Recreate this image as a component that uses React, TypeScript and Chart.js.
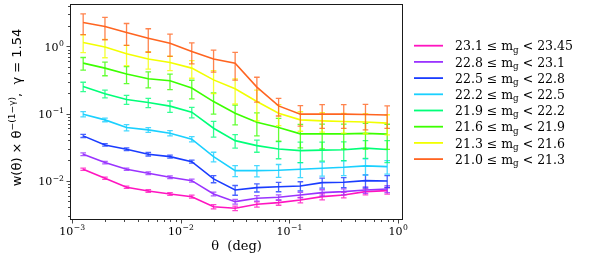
import React, { useEffect, useRef } from 'react';
import { Chart, registerables } from 'chart.js';

Chart.register(...registerables);

// angular separations (deg)
const THETA = [0.00126, 0.002, 0.00316, 0.00501, 0.00794, 0.0126, 0.02, 0.0316, 0.0501, 0.0794, 0.126, 0.2, 0.316, 0.501, 0.794];

// magnitude bins (legend order, faintest first)
const BIN_LO = ['23.1', '22.8', '22.5', '22.2', '21.9', '21.6', '21.3', '21.0'];
const BIN_HI = ['23.45', '23.1', '22.8', '22.5', '22.2', '21.9', '21.6', '21.3'];
const COLORS = ['#ff14c0', '#9a33ff', '#1a3cff', '#1ad0ff', '#00ff78', '#3cff00', '#f2ff00', '#ff6420'];

const W_2310 = [0.0148, 0.01086, 0.00797, 0.00702, 0.00633, 0.00577, 0.00409, 0.00387, 0.00444, 0.0047, 0.00515, 0.00577, 0.00612, 0.00685, 0.0071];
const E_2310 = [0.0006, 0.0004, 0.0003, 0.0003, 0.0003, 0.0003, 0.0003, 0.0003, 0.0004, 0.0004, 0.0005, 0.0006, 0.0006, 0.0007, 0.0008];
const W_2280 = [0.0248, 0.0186, 0.0148, 0.0129, 0.01125, 0.01, 0.00633, 0.00486, 0.00546, 0.00565, 0.00612, 0.00662, 0.00685, 0.00726, 0.00752];
const E_2280 = [0.0012, 0.0008, 0.0006, 0.0006, 0.0005, 0.0005, 0.0004, 0.0004, 0.0005, 0.0005, 0.0006, 0.0007, 0.0007, 0.0008, 0.0009];
const W_2250 = [0.0465, 0.0341, 0.0294, 0.0248, 0.0228, 0.0192, 0.0106, 0.00726, 0.00787, 0.00813, 0.00833, 0.00934, 0.00946, 0.01, 0.0099];
const E_2250 = [0.0025, 0.0015, 0.0013, 0.0015, 0.0012, 0.001, 0.0013, 0.0012, 0.0011, 0.0013, 0.0013, 0.0016, 0.0016, 0.0022, 0.002];
const W_2220 = [0.098, 0.0805, 0.0618, 0.0571, 0.051, 0.0415, 0.0228, 0.0141, 0.0141, 0.0143, 0.0148, 0.0153, 0.0158, 0.0166, 0.0162];
const E_2220 = [0.009, 0.005, 0.0065, 0.0045, 0.0045, 0.0037, 0.0037, 0.0026, 0.0027, 0.0031, 0.0037, 0.0036, 0.0039, 0.0045, 0.0037];
const W_2190 = [0.253, 0.197, 0.162, 0.146, 0.129, 0.105, 0.0605, 0.0395, 0.0333, 0.0297, 0.028, 0.0285, 0.0289, 0.0305, 0.0291];
const E_2190 = [0.04, 0.026, 0.025, 0.023, 0.025, 0.019, 0.016, 0.009, 0.0068, 0.0085, 0.0094, 0.009, 0.009, 0.009, 0.0105];
const W_2160 = [0.565, 0.476, 0.39, 0.33, 0.308, 0.24, 0.151, 0.101, 0.0744, 0.0618, 0.0498, 0.0498, 0.0498, 0.0506, 0.0493];
const E_2160 = [0.12, 0.11, 0.11, 0.088, 0.08, 0.074, 0.053, 0.033, 0.028, 0.023, 0.019, 0.02, 0.02, 0.021, 0.02];
const W_2130 = [1.15, 0.98, 0.78, 0.65, 0.577, 0.476, 0.318, 0.234, 0.151, 0.101, 0.0805, 0.0778, 0.076, 0.075, 0.072];
const E_2130 = [0.34, 0.3, 0.26, 0.19, 0.14, 0.14, 0.12, 0.095, 0.073, 0.035, 0.026, 0.025, 0.025, 0.025, 0.024];
const W_2100 = [2.28, 1.99, 1.62, 1.33, 1.12, 0.84, 0.65, 0.565, 0.248, 0.13, 0.098, 0.098, 0.098, 0.097, 0.095];
const E_2100 = [0.78, 0.73, 0.58, 0.51, 0.41, 0.29, 0.235, 0.25, 0.1, 0.038, 0.033, 0.038, 0.038, 0.04, 0.035];

const SERIES = [W_2310, W_2280, W_2250, W_2220, W_2190, W_2160, W_2130, W_2100];
const ERRORS = [E_2310, E_2280, E_2250, E_2220, E_2190, E_2160, E_2130, E_2100];

const X_MAJOR = [0.001, 0.01, 0.1, 1];
const X_MAJOR_EXP = ['\u22123', '\u22122', '\u22121', '0'];
const Y_MAJOR = [0.01, 0.1, 1];
const Y_MAJOR_EXP = ['\u22122', '\u22121', '0'];
const MINOR_MULT = [2, 3, 4, 5, 6, 7, 8, 9];

const X_MIN = 9.53e-4;
const X_MAX = 1.11;
const Y_MIN = 2.59e-3;
const Y_MAX = 4.3;

const SERIF = '"DejaVu Serif", serif';
const SANS = '"DejaVu Sans", sans-serif';

function withAlpha(hex: string, a: number) {
  const r = parseInt(hex.slice(1, 3), 16);
  const g = parseInt(hex.slice(3, 5), 16);
  const b = parseInt(hex.slice(5, 7), 16);
  return `rgba(${r},${g},${b},${a})`;
}

function minorTicks(min: number, max: number) {
  const out: number[] = [];
  for (let e = Math.floor(Math.log10(min)); e <= Math.ceil(Math.log10(max)); e++) {
    for (const m of MINOR_MULT) {
      const v = m * Math.pow(10, e);
      if (v >= min && v <= max) out.push(v);
    }
  }
  return out;
}

function drawPow(ctx: CanvasRenderingContext2D, exp: string, x: number, y: number, size: number, align: 'center' | 'right') {
  const supSize = size * 0.7;
  ctx.font = `${size}px ${SERIF}`;
  const wb = ctx.measureText('10').width;
  ctx.font = `${supSize}px ${SERIF}`;
  const ws = ctx.measureText(exp).width;
  const total = wb + ws + 0.5;
  const x0 = align === 'center' ? x - total / 2 : x - total;
  ctx.textAlign = 'left';
  ctx.textBaseline = 'alphabetic';
  ctx.font = `${size}px ${SERIF}`;
  ctx.fillText('10', x0, y);
  ctx.font = `${supSize}px ${SERIF}`;
  ctx.fillText(exp, x0 + wb + 0.5, y - size * 0.42);
}

const decor = {
  id: 'decor',
  afterDatasetDraw(chart: any, args: any) {
    const i = args.index;
    const ctx: CanvasRenderingContext2D = chart.ctx;
    const xs = chart.scales.x;
    const ys = chart.scales.y;
    const vals = SERIES[i];
    const errs = ERRORS[i];
    ctx.save();
    ctx.strokeStyle = withAlpha(COLORS[i], 0.8);
    ctx.lineWidth = 1.3;
    for (let k = 0; k < THETA.length; k++) {
      const px = xs.getPixelForValue(THETA[k]);
      const lo = Math.max(vals[k] - errs[k], Y_MIN * 0.5);
      const hi = vals[k] + errs[k];
      const py1 = ys.getPixelForValue(hi);
      const py2 = ys.getPixelForValue(lo);
      ctx.beginPath();
      ctx.moveTo(px, py1);
      ctx.lineTo(px, py2);
      ctx.moveTo(px - 2.8, py1);
      ctx.lineTo(px + 2.8, py1);
      ctx.moveTo(px - 2.8, py2);
      ctx.lineTo(px + 2.8, py2);
      ctx.stroke();
    }
    ctx.restore();
  },
  afterDraw(chart: any) {
    const ctx: CanvasRenderingContext2D = chart.ctx;
    const { left, right, top, bottom } = chart.chartArea;
    const xs = chart.scales.x;
    const ys = chart.scales.y;
    ctx.save();
    // frame
    ctx.strokeStyle = '#1a1a1a';
    ctx.lineWidth = 1;
    ctx.strokeRect(Math.round(left) + 0.5, Math.round(top) + 0.5, Math.round(right - left) - 1, Math.round(bottom - top) - 1);
    // ticks
    ctx.beginPath();
    for (const v of X_MAJOR) {
      const px = Math.round(xs.getPixelForValue(v)) + 0.5;
      ctx.moveTo(px, bottom); ctx.lineTo(px, bottom + 3.5);
    }
    for (const v of minorTicks(X_MIN, X_MAX)) {
      const px = Math.round(xs.getPixelForValue(v)) + 0.5;
      ctx.moveTo(px, bottom); ctx.lineTo(px, bottom + 2);
    }
    for (const v of Y_MAJOR) {
      const py = Math.round(ys.getPixelForValue(v)) + 0.5;
      ctx.moveTo(left, py); ctx.lineTo(left - 3.5, py);
    }
    for (const v of minorTicks(Y_MIN, Y_MAX)) {
      const py = Math.round(ys.getPixelForValue(v)) + 0.5;
      ctx.moveTo(left, py); ctx.lineTo(left - 2, py);
    }
    ctx.lineWidth = 0.8;
    ctx.stroke();
    // tick labels
    ctx.fillStyle = '#000';
    X_MAJOR.forEach((v, k) => {
      drawPow(ctx, X_MAJOR_EXP[k], xs.getPixelForValue(v), bottom + 15, 11, 'center');
    });
    Y_MAJOR.forEach((v, k) => {
      drawPow(ctx, Y_MAJOR_EXP[k], left - 6, ys.getPixelForValue(v) + 4.5, 11, 'right');
    });
    // x title
    ctx.font = `13px ${SERIF}`;
    ctx.textAlign = 'center';
    ctx.textBaseline = 'alphabetic';
    ctx.fillText('\u03b8  (deg)', (left + right) / 2, bottom + 30);
    // y title
    ctx.save();
    ctx.translate(21, 107.5);
    ctx.rotate(-Math.PI / 2);
    const s = 13;
    const p1 = 'w(\u03b8) \u00d7 \u03b8';
    const p2 = '\u2212(1\u2212\u03b3)';
    const p3 = ',  \u03b3 = 1.54';
    ctx.font = `${s}px ${SANS}`;
    const w1 = ctx.measureText(p1).width;
    const w3 = ctx.measureText(p3).width;
    ctx.font = `${s * 0.7}px ${SANS}`;
    const w2 = ctx.measureText(p2).width;
    let x0 = -(w1 + w2 + w3) / 2;
    ctx.textAlign = 'left';
    ctx.font = `${s}px ${SANS}`;
    ctx.fillText(p1, x0, 0);
    ctx.font = `${s * 0.7}px ${SANS}`;
    ctx.fillText(p2, x0 + w1, -s * 0.45);
    ctx.font = `${s}px ${SANS}`;
    ctx.fillText(p3, x0 + w1 + w2, 0);
    ctx.restore();
    // legend
    const fs = 12.5;
    for (let i = 0; i < BIN_LO.length; i++) {
      const cy = 45.7 + i * 16.2;
      ctx.strokeStyle = COLORS[i];
      ctx.lineWidth = 1.8;
      ctx.beginPath();
      ctx.moveTo(414, cy);
      ctx.lineTo(443, cy);
      ctx.stroke();
      const by = cy + 4.6;
      let x = 455;
      ctx.fillStyle = '#000';
      ctx.textAlign = 'left';
      ctx.font = `${fs}px ${SERIF}`;
      const a = `${BIN_LO[i]} \u2264 m`;
      ctx.fillText(a, x, by);
      x += ctx.measureText(a).width;
      ctx.font = `${fs * 0.7}px ${SERIF}`;
      ctx.fillText('g', x, by + 2.3);
      x += ctx.measureText('g').width;
      ctx.font = `${fs}px ${SERIF}`;
      ctx.fillText(` < ${BIN_HI[i]}`, x, by);
    }
    ctx.restore();
  },
};

export default function App() {
  const ref = useRef<HTMLCanvasElement | null>(null);
  useEffect(() => {
    if (!ref.current) return;
    const datasets = SERIES.map((vals, i) => ({
      label: `${BIN_LO[i]} \u2264 m_g < ${BIN_HI[i]}`,
      data: THETA.map((t, k) => ({ x: t, y: vals[k] })),
      borderColor: COLORS[i],
      backgroundColor: COLORS[i],
      borderWidth: 1.6,
      pointRadius: 0,
      tension: 0,
      fill: false,
      order: SERIES.length - 1 - i,
    }));
    const chart = new Chart(ref.current, {
      type: 'line',
      data: { datasets },
      options: {
        animation: false,
        responsive: false,
        devicePixelRatio: 1,
        layout: { padding: { left: 70, top: 4, right: 189, bottom: 50 } },
        plugins: { legend: { display: false }, tooltip: { enabled: false } },
        scales: {
          x: { type: 'logarithmic', min: X_MIN, max: X_MAX, bounds: 'data', display: false },
          y: { type: 'logarithmic', min: Y_MIN, max: Y_MAX, bounds: 'data', display: false },
        },
      },
      plugins: [decor],
    } as any);
    return () => chart.destroy();
  }, []);
  return (
    <div style={{ position: 'absolute', left: 0, top: 0, width: 592, height: 270, background: '#fff' }}>
      <canvas ref={ref} width={592} height={270} style={{ width: 592, height: 270, display: 'block' }} />
    </div>
  );
}
